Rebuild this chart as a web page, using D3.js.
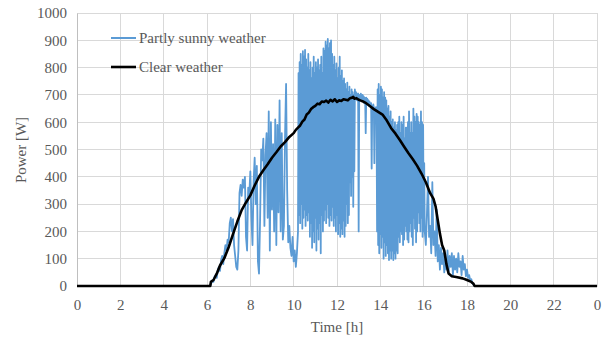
<!DOCTYPE html>
<html><head><meta charset="utf-8">
<script src="https://cdn.jsdelivr.net/npm/d3@7"></script>
<style>body{margin:0;background:#fff}svg{display:block}</style>
</head><body><svg id="c" width="606" height="338"></svg>
<script>
const xTicks = [0,2,4,6,8,10,12,14,16,18,20,22,24];
const xTickLabels = ["0","2","4","6","8","10","12","14","16","18","20","22","0"];
const yTicks = [0,100,200,300,400,500,600,700,800,900,1000];
const seriesNames = ["Partly sunny weather","Clear weather"];

// Clear weather: [hour, W]
const clearHours = [0,6.15,6.18,6.3,6.45,6.6,6.8,7.0,7.2,7.4,7.6,7.8,8.0,8.2,8.4,8.6,8.8,9.0,9.2,9.4,9.6,9.8,10.0,10.1,10.2,10.3,10.4,10.5,10.6,10.7,10.8,10.9,11.0,11.1,11.2,11.3,11.4,11.5,11.6,11.7,11.8,11.9,12.0,12.1,12.2,12.3,12.4,12.5,12.6,12.7,12.75,12.8,12.9,13.0,13.1,13.2,13.3,13.5,13.7,13.9,14.1,14.3,14.5,14.7,14.9,15.1,15.3,15.5,15.7,15.9,16.1,16.3,16.45,16.55,16.65,16.75,16.85,16.95,17.05,17.15,17.3,17.5,17.8,18.0,18.2,18.3,18.35,24];
const clearValues = [0,0,15,22,45,75,102,142,190,236,278,306,332,368,400,424,446,470,490,511,527,546,560,572,580,588,602,610,628,635,648,655,660,668,666,676,674,679,672,682,676,684,674,680,678,684,682,680,688,690,693,686,688,682,679,676,672,660,648,638,628,606,578,558,535,510,486,464,440,412,380,340,320,292,242,192,150,130,80,46,36,33,28,22,15,8,0,0];

// Partly sunny weather, morning: every 0.05 h from 6.00 h
const morningStart = 6.0, morningStep = 0.05;
const morningValues = [
0,0,0,0,10,20,15,35,40,30,60,70,55,95,110,80,120,150,130,170,
160,230,250,200,245,150,110,70,60,130,340,370,330,390,360,400,180,130,360,330,
420,250,150,380,470,300,440,90,45,240,500,460,540,220,480,560,250,640,130,600,
280,520,200,610,150,590,270,680,200,560,170,220,540,740,350,160,220,140,110,180,
90,130,70,120];
// Partly sunny weather, midday: every 0.025 h from 10.20 h
const middayStart = 10.2, middayStep = 0.025;
const middayValues = [
200,780,260,820,230,850,300,810,210,860,250,840,280,865,220,830,260,800,240,850,
270,790,180,820,230,760,140,800,200,840,160,780,250,820,130,800,210,830,170,790,
230,810,120,840,260,780,200,870,240,860,280,895,230,880,300,905,250,870,220,890,
260,900,240,850,290,810,220,840,250,790,200,815,260,760,190,800,230,840,180,770,
210,790,190,750,240,760,180,740,220,720,300,745,230,710,260,730,380,700,330,720,
400,710,290,700,420,720,690,710,700,680,695,705,200,690,700,685,705,690,680,700,
685,695,670,690,680,560,690,675,685,670,680,660,675,665,655,670,430,660,650,665,
655,450,650,640,655,630,200,720,150,740,120,700,190,730,140,720,180,690,100,710,
160,690,110,680,150,650,120,660,95,620,130,640,100,600,130,610,95,580,120,600,
100,570,130,590,120,600,180,620,160,560,200,600,190,590,150,620,170,540,220,580,
200,580,170,600,160,640,200,560,230,600,180,560,150,650,250,620,210,600,160,630,
200,620,270,600,230,590,200,640,250,600,180,590,200,450];
// Partly sunny weather, evening: every 0.05 h from 16.05 h
const eveningStart = 16.05, eveningStep = 0.05;
const eveningValues = [
200,150,260,400,180,220,120,380,150,200,110,280,90,150,60,140,80,120,50,100,
60,130,50,110,70,120,40,110,60,100,50,120,70,90,40,110,60,80,35,60,
30,40,20,25,10,5,0];

const FONT = '"Liberation Serif", "Times New Roman", serif';
const W = 606, H = 338;
const m = {l:77, r:9, t:13, b:52};
const svg = d3.select("#c");
const x = d3.scaleLinear().domain([0,24]).range([m.l, W - m.r]);
const y = d3.scaleLinear().domain([0,1000]).range([H - m.b, m.t]);

// gridlines
svg.append("g").selectAll("line").data(yTicks.filter(d=>d>0)).join("line")
  .attr("x1", x(0)).attr("x2", x(24)).attr("y1", d=>y(d)).attr("y2", d=>y(d))
  .attr("stroke", "#d9d9d9").attr("stroke-width", 1).attr("shape-rendering","crispEdges");
svg.append("g").selectAll("line").data(xTicks.filter(d=>d>0)).join("line")
  .attr("x1", d=>x(d)).attr("x2", d=>x(d)).attr("y1", y(0)).attr("y2", y(1000))
  .attr("stroke", "#d9d9d9").attr("stroke-width", 1).attr("shape-rendering","crispEdges");

// axes
const yAxis = d3.axisLeft(y).tickValues(yTicks).tickFormat(d3.format("d")).tickSize(0).tickPadding(10);
const gy = svg.append("g").attr("transform", `translate(${x(0)},0)`).call(yAxis);
gy.attr("font-family", null);
gy.select(".domain").attr("stroke", "#bfbfbf");
gy.selectAll("text").style("font-size", "15px").style("fill", "#595959").style("font-family", FONT);

const xAxis = d3.axisBottom(x).tickValues(xTicks).tickFormat((d,i)=>xTickLabels[i]).tickSize(0).tickPadding(13);
const gx = svg.append("g").attr("transform", `translate(0,${y(0)})`).call(xAxis);
gx.attr("font-family", null);
gx.select(".domain").attr("stroke", "#bfbfbf");
gx.selectAll("text").style("font-size", "15px").style("fill", "#595959").style("font-family", FONT);

// series
const seg = (start, step, vals) => vals.map((v,i)=>[start + i*step, v]);
const sunny = [].concat(
  seg(morningStart, morningStep, morningValues),
  seg(middayStart, middayStep, middayValues),
  seg(eveningStart, eveningStep, eveningValues));
const clear = clearHours.map((h,i)=>[h, clearValues[i]]);
const line = d3.line().x(d=>x(d[0])).y(d=>y(d[1]));
svg.append("path").datum(sunny).attr("d", line).attr("fill","none")
  .attr("stroke","#5b9bd5").attr("stroke-width",1.8).attr("stroke-linejoin","round");
svg.append("path").datum(clear).attr("d", line).attr("fill","none")
  .attr("stroke","#000").attr("stroke-width",2.6).attr("stroke-linejoin","round");

// legend
const lg = svg.append("g");
const lcol = ["#5b9bd5","#000"];
seriesNames.forEach((n,i)=>{
  const yy = 38 + i*29;
  lg.append("line").attr("x1",111).attr("x2",136).attr("y1",yy).attr("y2",yy)
    .attr("stroke",lcol[i]).attr("stroke-width", i?2.6:2);
  lg.append("text").attr("x",139).attr("y",yy+5).style("font-size","15px")
    .style("fill","#595959").style("font-family",FONT).text(n);
});

// axis titles
svg.append("text").attr("x", x(12)).attr("y", 332).attr("text-anchor","middle")
  .style("font-size","15px").style("fill","#595959").style("font-family",FONT).text("Time [h]");
svg.append("text").attr("transform","translate(26,150) rotate(-90)").attr("text-anchor","middle")
  .style("font-size","15px").style("fill","#595959").style("font-family",FONT).text("Power [W]");
</script></body></html>
